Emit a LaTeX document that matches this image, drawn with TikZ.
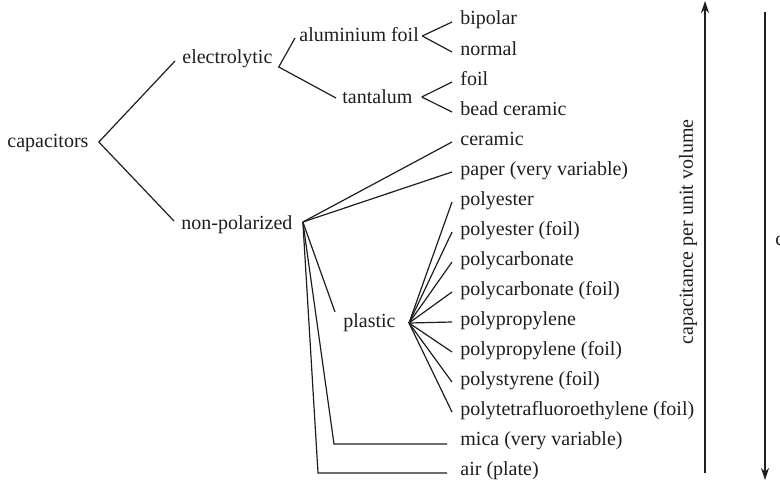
\documentclass[tikz,border=0pt]{standalone}
\usepackage{fontspec}
\setmainfont{Liberation Serif}
\newfontfamily\treefont{Liberation Serif}
\usetikzlibrary{arrows.meta}
\definecolor{ink}{RGB}{30,30,30}
\tikzset{
  >={Stealth[length=6pt,width=4pt]},
  lbl/.style={anchor=base west,inner sep=0pt,text=ink,font=\treefont\fontsize{10}{12}\selectfont},
  branch/.style={draw=ink,line width=0.6pt},
  axis/.style={->,draw=ink,line width=0.6pt},
}
\begin{document}
\begin{tikzpicture}[x=0.5pt,y=-0.5pt]
  \useasboundingbox (0,0) rectangle (780,482);
  % inner nodes
  \node[lbl] (cap) at (7,147) {capacitors};
  \node[lbl] (elec) at (182,63) {electrolytic};
  \node[lbl] (npol) at (181,229) {non-polarized};
  \node[lbl] (alu) at (299,41) {aluminium foil};
  \node[lbl] (tant) at (342,103) {tantalum};
  \node[lbl] (plas) at (343,327) {plastic};
  % leaves
  \foreach \n/\t [count=\i from 0] in {bip/bipolar,nor/normal,foil/foil,bead/bead ceramic,
      cer/ceramic,pap/paper (very variable),pe/polyester,pef/polyester (foil),
      pc/polycarbonate,pcf/polycarbonate (foil),pp/polypropylene,ppf/polypropylene (foil),
      ps/polystyrene (foil),ptfe/polytetrafluoroethylene (foil),mica/mica (very variable),air/air (plate)}
    \node[lbl] (\n) at (460,25+30*\i) {\t};
  % branching points
  \coordinate (capV) at ([shift={(10,-5)}]cap.base east);
  \coordinate (elecV) at ([shift={(6,4)}]elec.base east);
  \coordinate (aluV) at ([shift={(3,-5)}]alu.base east);
  \coordinate (tantV) at ([shift={(9,-6)}]tant.base east);
  \coordinate (npolV) at ([shift={(10,-7)}]npol.base east);
  \coordinate (plasV) at ([shift={(13,-4)}]plas.base east);
  % tree
  \draw[branch] ([shift={(-7,-2)}]elec.base west) -- (capV) -- ([shift={(-7,-8)}]npol.base west);
  \draw[branch] ([shift={(-4,-3)}]alu.base west) -- (elecV) -- ([shift={(-6,-5)}]tant.base west);
  \foreach \n in {bip,nor} \draw[branch] (aluV) -- ([shift={(-8,-3)}]\n.base west);
  \foreach \n in {foil,bead} \draw[branch] (tantV) -- ([shift={(-8,-3)}]\n.base west);
  \foreach \n in {cer,pap} \draw[branch] (npolV) -- ([shift={(-8,-3)}]\n.base west);
  \draw[branch] (npolV) -- ([shift={(-8,-15)}]plas.base west);
  \foreach \n in {pe,pef,pc,pcf,pp,ppf,ps,ptfe} \draw[branch] (plasV) -- ([shift={(-8,-3)}]\n.base west);
  \draw[branch] (npolV) -- ([shift={(-126,-1)}]mica.base west) -- ([shift={(-13,-1)}]mica.base west);
  \draw[branch] (npolV) -- ([shift={(-142,-2)}]air.base west) -- ([shift={(-13,-2)}]air.base west);
  % axes
  \coordinate (upLo) at (705,473);
  \coordinate (upHi) at (705,1);
  \coordinate (dnHi) at (765,12);
  \coordinate (dnLo) at (765,480);
  \draw[axis] (upLo) -- (upHi);
  \draw[axis] (dnHi) -- (dnLo);
  \node[text=ink,font=\treefont\fontsize{10}{12}\selectfont,rotate=90,inner sep=0pt] (cpv) at (688,232) {capacitance per unit volume};
  \node[lbl] (cut) at (775,245) {c};
\end{tikzpicture}
\end{document}
